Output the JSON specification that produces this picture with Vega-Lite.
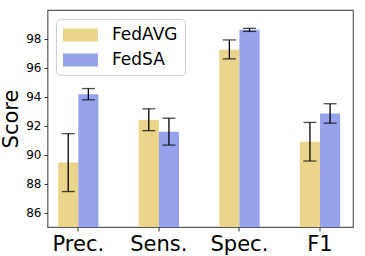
{
  "$schema": "https://vega.github.io/schema/vega-lite/v6.json",
  "width": 305.5,
  "height": 217,
  "autosize": {"type": "none"},
  "padding": {"left": 47.5, "top": 10, "right": 12, "bottom": 29},
  "background": "white",
  "config": {
    "font": "DejaVu Sans",
    "view": {"stroke": "#5a5a5a", "strokeWidth": 1.2},
    "axisY": {
      "titleFontSize": 21,
      "titleFontWeight": "normal",
      "titleColor": "black",
      "titlePadding": 4,
      "labelOverlap": false,
      "labelFontSize": 12,
      "labelColor": "black",
      "labelPadding": 3,
      "tickColor": "#333",
      "tickSize": 3.5,
      "domain": false,
      "grid": false
    }
  },
  "data": {
    "values": [
      {"metric": "Prec.", "method": "FedAVG", "value": 89.45, "lo": 87.45, "hi": 91.45},
      {"metric": "Prec.", "method": "FedSA", "value": 94.18, "lo": 93.79, "hi": 94.57},
      {"metric": "Sens.", "method": "FedAVG", "value": 92.39, "lo": 91.66, "hi": 93.17},
      {"metric": "Sens.", "method": "FedSA", "value": 91.59, "lo": 90.66, "hi": 92.52},
      {"metric": "Spec.", "method": "FedAVG", "value": 97.26, "lo": 96.62, "hi": 97.93},
      {"metric": "Spec.", "method": "FedSA", "value": 98.64, "lo": 98.52, "hi": 98.73},
      {"metric": "F1", "method": "FedAVG", "value": 90.9, "lo": 89.56, "hi": 92.23},
      {"metric": "F1", "method": "FedSA", "value": 92.85, "lo": 92.18, "hi": 93.52}
    ]
  },
  "encoding": {
    "x": {
      "field": "metric",
      "type": "nominal",
      "sort": ["Prec.", "Sens.", "Spec.", "F1"],
      "scale": {"range": [-9.5, 312.8], "paddingInner": 0, "paddingOuter": 0},
      "axis": {
        "title": null,
        "labelAngle": 0,
        "labelFontSize": 21,
        "labelColor": "black",
        "labelPadding": 2,
        "labelOverlap": false,
        "tickColor": "#333",
        "tickSize": 4,
        "domain": false,
        "grid": false
      }
    },
    "xOffset": {
      "field": "method",
      "type": "nominal",
      "scale": {"domain": ["FedAVG", "FedSA"], "paddingInner": 0, "paddingOuter": 1.014}
    }
  },
  "layer": [
    {
      "mark": {"type": "bar", "clip": true},
      "encoding": {
        "y": {
          "field": "value",
          "type": "quantitative",
          "scale": {"domain": [85, 100], "zero": false, "nice": false},
          "axis": {"title": "Score", "values": [86, 88, 90, 92, 94, 96, 98]}
        },
        "y2": {"datum": 85},
        "color": {
          "field": "method",
          "type": "nominal",
          "scale": {"domain": ["FedAVG", "FedSA"], "range": ["#EAD58A", "#96A3EC"]},
          "legend": {
            "title": null,
            "orient": "none",
            "legendX": 8.5,
            "legendY": 9,
            "fillColor": "white",
            "strokeColor": "#d0d0d0",
            "cornerRadius": 4,
            "padding": 7,
            "symbolType": "M-1,-0.72H2.88V0.72H-1Z",
            "symbolSize": 324,
            "symbolStrokeWidth": 0,
            "symbolOpacity": 1,
            "labelFontSize": 17,
            "labelColor": "black",
            "labelOffset": 31,
            "rowPadding": 8
          }
        }
      }
    },
    {
      "mark": {"type": "rule", "color": "black", "strokeWidth": 1.3},
      "encoding": {
        "y": {"field": "lo", "type": "quantitative", "axis": {"title": "Score", "values": [86, 88, 90, 92, 94, 96, 98]}},
        "y2": {"field": "hi"}
      }
    },
    {
      "mark": {"type": "tick", "color": "black", "thickness": 1.3, "size": 13},
      "encoding": {
        "y": {"field": "lo", "type": "quantitative", "axis": {"title": "Score", "values": [86, 88, 90, 92, 94, 96, 98]}}
      }
    },
    {
      "mark": {"type": "tick", "color": "black", "thickness": 1.3, "size": 13},
      "encoding": {
        "y": {"field": "hi", "type": "quantitative", "axis": {"title": "Score", "values": [86, 88, 90, 92, 94, 96, 98]}}
      }
    }
  ]
}
